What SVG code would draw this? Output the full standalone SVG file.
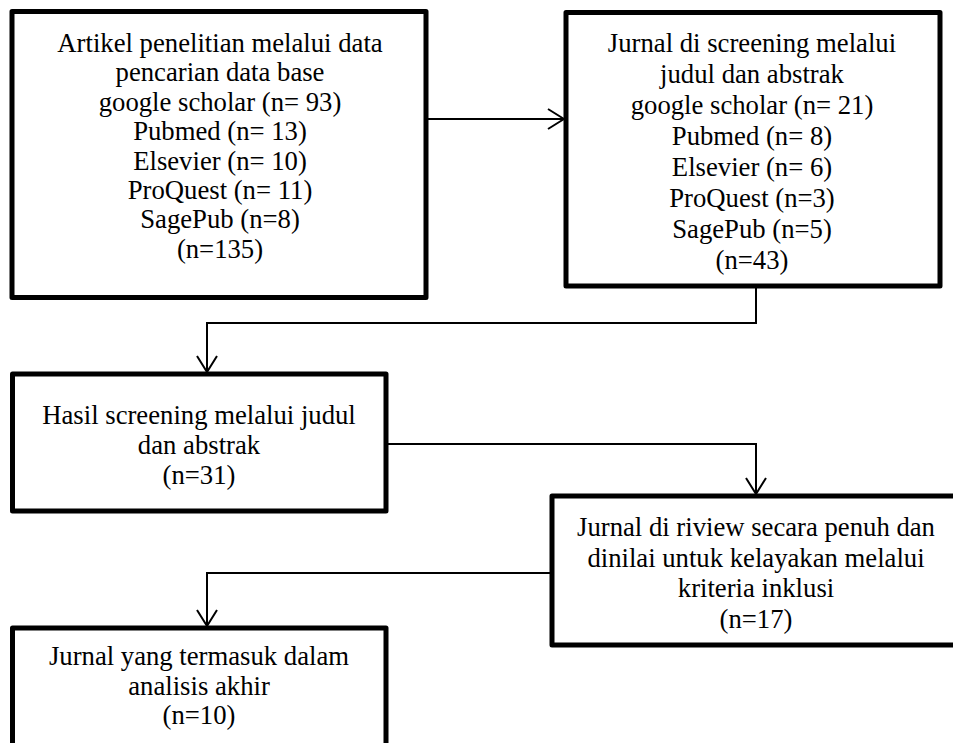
<svg xmlns="http://www.w3.org/2000/svg" width="953" height="743" viewBox="0 0 953 743">
<style>
.box{fill:#fff;stroke:#000;stroke-width:5;stroke-linejoin:round}
.t{font-family:"Liberation Serif","Times New Roman",serif;font-size:26.7px;fill:#000;text-anchor:middle}
.c{fill:none;stroke:#000;stroke-width:2}
</style>
<defs>
<marker id="ah" viewBox="0 0 18 22" refX="17" refY="11" markerWidth="18" markerHeight="22" markerUnits="userSpaceOnUse" orient="auto">
<path d="M1,1 L17,11 L1,21" fill="none" stroke="#000" stroke-width="2"/>
</marker>
</defs>
<rect width="953" height="743" fill="#fff"/>
<g id="connectors">
<path class="c" d="M428,119 H564" marker-end="url(#ah)"/>
<path class="c" d="M756,288 V323 H207 V372" marker-end="url(#ah)"/>
<path class="c" d="M388,444 H756 V494" marker-end="url(#ah)"/>
<path class="c" d="M550,573 H207 V626" marker-end="url(#ah)"/>
</g>
<g id="node1">
<rect class="box" x="12" y="11.5" width="414" height="286"/>
<text class="t" x="220" y="52">Artikel penelitian melalui data</text>
<text class="t" x="220" y="81.4">pencarian data base</text>
<text class="t" x="220" y="110.8">google scholar (n= 93)</text>
<text class="t" x="220" y="140.2">Pubmed (n= 13)</text>
<text class="t" x="220" y="169.6">Elsevier (n= 10)</text>
<text class="t" x="220" y="199">ProQuest (n= 11)</text>
<text class="t" x="220" y="228.4">SagePub (n=8)</text>
<text class="t" x="220" y="257.8">(n=135)</text>
</g>
<g id="node2">
<rect class="box" x="566" y="12.5" width="374" height="273.5"/>
<text class="t" x="752" y="52">Jurnal di screening melalui</text>
<text class="t" x="752" y="83">judul dan abstrak</text>
<text class="t" x="752" y="114">google scholar (n= 21)</text>
<text class="t" x="752" y="145">Pubmed (n= 8)</text>
<text class="t" x="752" y="176">Elsevier (n= 6)</text>
<text class="t" x="752" y="207">ProQuest (n=3)</text>
<text class="t" x="752" y="238">SagePub (n=5)</text>
<text class="t" x="752" y="269">(n=43)</text>
</g>
<g id="node3">
<rect class="box" x="12.5" y="374" width="373.5" height="137"/>
<text class="t" x="199" y="424">Hasil screening melalui judul</text>
<text class="t" x="199" y="454">dan abstrak</text>
<text class="t" x="199" y="484">(n=31)</text>
</g>
<g id="node4">
<rect class="box" x="552" y="496" width="408" height="149"/>
<text class="t" x="756" y="536">Jurnal di riview secara penuh dan</text>
<text class="t" x="756" y="566.5">dinilai untuk kelayakan melalui</text>
<text class="t" x="756" y="597">kriteria inklusi</text>
<text class="t" x="756" y="628">(n=17)</text>
</g>
<g id="node5">
<rect class="box" x="12.5" y="628" width="373.5" height="130"/>
<text class="t" x="199" y="665">Jurnal yang termasuk dalam</text>
<text class="t" x="199" y="694.5">analisis akhir</text>
<text class="t" x="199" y="724">(n=10)</text>
</g>
</svg>
